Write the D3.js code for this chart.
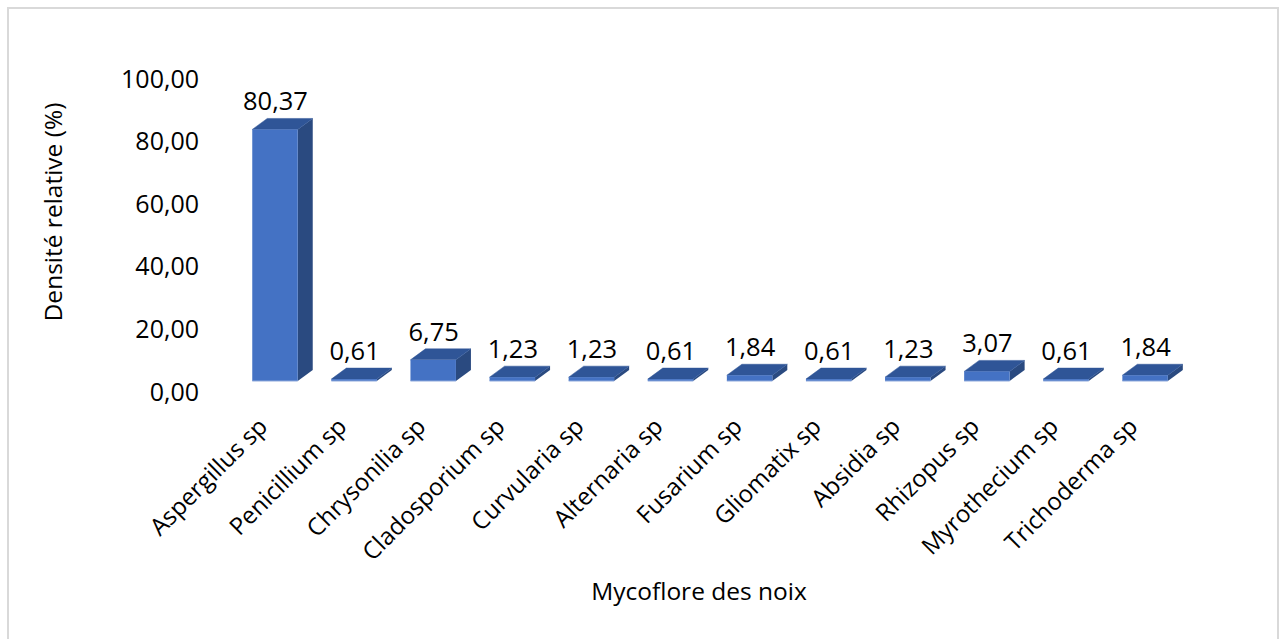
<!DOCTYPE html>
<html><head><meta charset="utf-8">
<script src="https://cdn.jsdelivr.net/npm/d3@7"></script>
<style>
html,body{margin:0;padding:0;background:#fff;overflow:hidden}
svg{display:block}
text{font-family:"Open Sans",sans-serif;fill:#000}
</style></head><body><svg id="c" width="1280" height="639"></svg>
<script>
const categories=["Aspergillus sp","Penicillium sp","Chrysonilia sp","Cladosporium sp","Curvularia sp","Alternaria sp","Fusarium sp","Gliomatix sp","Absidia sp","Rhizopus sp","Myrothecium sp","Trichoderma sp"];
const values=[80.37,0.61,6.75,1.23,1.23,0.61,1.84,0.61,1.23,3.07,0.61,1.84];
const yTicks=[0,20,40,60,80,100];
const xTitle="Mycoflore des noix";
const yTitle="Densité relative (%)";
const fmt=v=>d3.format(".2f")(v).replace(".",",");
const colors={front:"#4472C4",top:"#2F5597",side:"#2A4A80",edge:"#8FAADC"};
const svg=d3.select("#c");
svg.append("path").attr("d","M8,639V8H1278V639").attr("fill","none").attr("stroke","#D9D9D9").attr("stroke-width",2);
const x=d3.scaleBand().domain(categories).range([235.45,1184.65]).paddingInner(0.425).paddingOuter(0.2125);
const y=d3.scaleLinear().domain([0,100]).range([381,68]);
const dx=15,dy=11;
const yAxis=svg.append("g").attr("transform","translate(199,"+dy+")").call(d3.axisLeft(y).tickValues(yTicks).tickFormat(fmt).tickSize(0).tickPadding(0));
yAxis.select(".domain").remove();
yAxis.selectAll("text").attr("font-size",25).attr("dy","0.32em").attr("font-family",'"Open Sans",sans-serif').attr("fill","#000");
const bars=svg.append("g").selectAll("g").data(categories).join("g");
const w=x.bandwidth();
bars.append("path").attr("fill",colors.side).attr("d",(c,i)=>{const l=x(c)+w,t=y(values[i]),b=y(0);return `M${l},${t}l${dx},${-dy}V${b-dy}l${-dx},${dy}Z`;});
bars.append("path").attr("fill",colors.top).attr("stroke",colors.top).attr("stroke-width",.5).attr("d",(c,i)=>{const l=x(c),t=y(values[i]);return `M${l},${t}l${dx},${-dy}h${w}l${-dx},${dy}Z`;});
bars.append("rect").attr("x",c=>x(c)).attr("y",(c,i)=>y(values[i])).attr("width",w).attr("height",(c,i)=>y(0)-y(values[i])).attr("fill",colors.front);
bars.append("path").attr("fill","none").attr("stroke",colors.edge).attr("stroke-width",1).attr("d",c=>`M${x(c)},${y(0)}h${w}`);
bars.append("text").attr("x",c=>x(c)+w/2+.5).attr("y",(c,i)=>y(values[i])-19).attr("text-anchor","middle").attr("font-size",25.5).text((c,i)=>fmt(values[i]));
const xAxis=svg.append("g").attr("transform","translate(0,381)").call(d3.axisBottom(x).tickSize(0).tickPadding(0));
xAxis.select(".domain").remove();
xAxis.selectAll("text").attr("font-size",24).attr("text-anchor","end").attr("dy",0).attr("y",0).attr("font-family",'"Open Sans",sans-serif').attr("fill","#000")
 .attr("transform","translate(-6,47) rotate(-45)");
svg.append("text").attr("x",699).attr("y",600).attr("text-anchor","middle").attr("font-size",24.5).text(xTitle);
svg.append("text").attr("transform","translate(62,212) rotate(-90)").attr("text-anchor","middle").attr("font-size",24.5).text(yTitle);
</script></body></html>
